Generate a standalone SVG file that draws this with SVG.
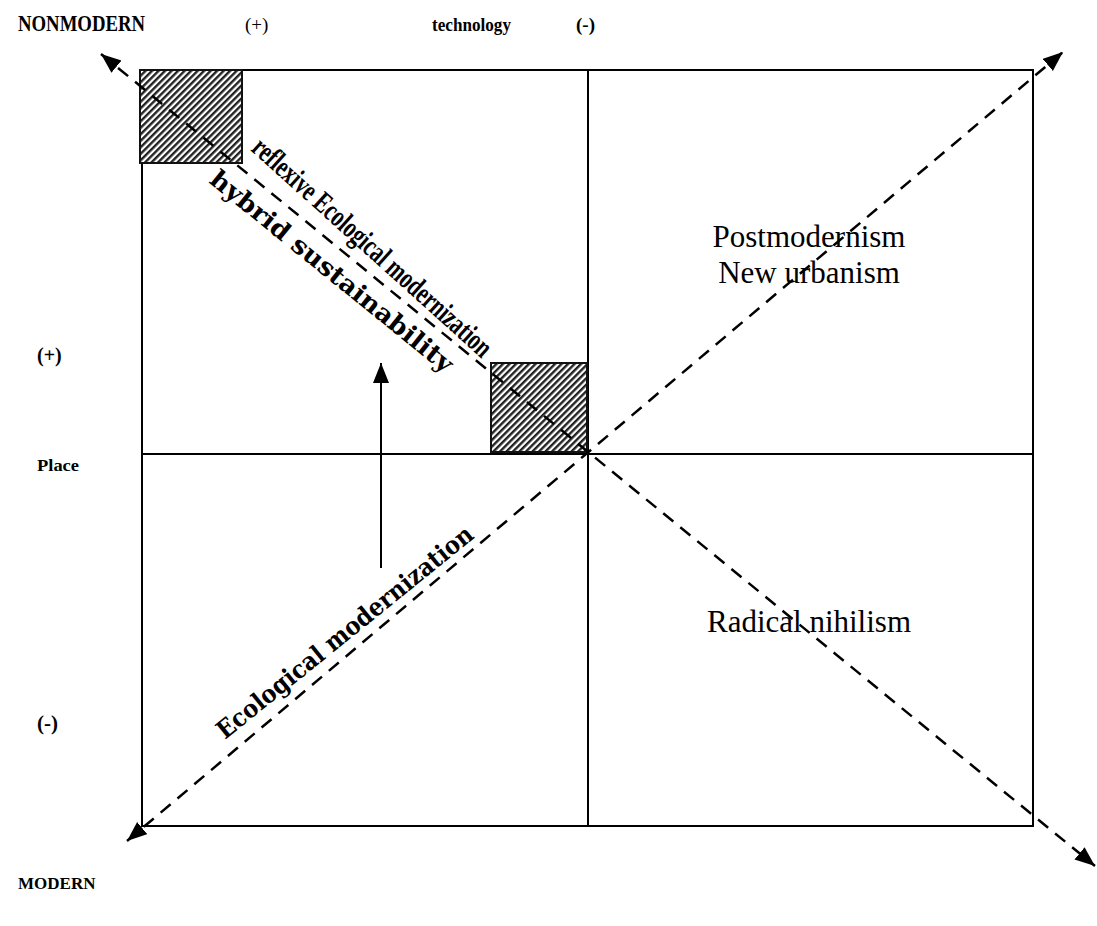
<svg xmlns="http://www.w3.org/2000/svg" width="1097" height="926" viewBox="0 0 1097 926">
  <style>
    .frame { fill: none; stroke: #000; stroke-width: 2; }
    .grid { stroke: #000; stroke-width: 2; }
    .dash { stroke: #000; stroke-width: 2.5; stroke-dasharray: 13 9; fill: none; }
    .hatch { fill: url(#stripes); stroke: #111; stroke-width: 2; }
    .lbl { font-family: "Liberation Serif", "Times New Roman", serif; fill: #000; }
    .b { font-weight: bold; }
    .wide { font-family: "DejaVu Serif", "Liberation Serif", serif; font-weight: bold; fill: #000; }
  </style>
  <defs>
    <pattern id="stripes" width="4.6" height="4.6" patternUnits="userSpaceOnUse" patternTransform="rotate(45)">
      <rect width="4.6" height="4.6" fill="#fff"/>
      <rect width="2.4" height="4.6" fill="#222"/>
    </pattern>
    <marker id="head" markerUnits="userSpaceOnUse" markerWidth="22" markerHeight="18" refX="20" refY="8" orient="auto-start-reverse">
      <path d="M0,0 L20,8 L0,16 Z" fill="#000"/>
    </marker>
  </defs>

  <!-- quadrant frame -->
  <g id="frame">
    <rect class="frame" x="142" y="70" width="891" height="756"/>
    <line class="grid" x1="588" y1="70" x2="588" y2="826"/>
    <line class="grid" x1="142" y1="454" x2="1033" y2="454"/>
  </g>

  <!-- hatched regions -->
  <g id="hatch-corner">
    <rect class="hatch" x="140" y="70" width="102" height="93"/>
  </g>
  <g id="hatch-center">
    <rect class="hatch" x="491" y="363" width="96" height="89"/>
  </g>

  <!-- axes and arrows -->
  <g id="connectors">
    <line class="dash" x1="101" y1="54" x2="1095" y2="866" marker-start="url(#head)" marker-end="url(#head)"/>
    <line class="dash" x1="127" y1="841" x2="1063" y2="52" marker-start="url(#head)" marker-end="url(#head)"/>
    <line stroke="#000" stroke-width="2" x1="381" y1="568" x2="381" y2="363" marker-end="url(#head)"/>
  </g>

  <!-- axis labels -->
  <g id="top-labels">
    <text class="lbl b" x="18" y="31" font-size="24" textLength="127" lengthAdjust="spacingAndGlyphs">NONMODERN</text>
    <text class="lbl" x="245" y="31" font-size="19">(+)</text>
    <text class="lbl b" x="432" y="31" font-size="19" textLength="79" lengthAdjust="spacingAndGlyphs">technology</text>
    <text class="lbl b" x="576" y="31" font-size="19">(-)</text>
  </g>
  <g id="side-labels">
    <text class="lbl b" x="37" y="362" font-size="20">(+)</text>
    <text class="lbl b" x="37" y="471" font-size="17" textLength="42" lengthAdjust="spacingAndGlyphs">Place</text>
    <text class="lbl b" x="37" y="730" font-size="21">(-)</text>
    <text class="lbl b" x="18" y="889" font-size="17">MODERN</text>
  </g>

  <!-- quadrant labels -->
  <g id="q-postmodern">
    <text class="lbl" x="809" y="247" font-size="31" text-anchor="middle">Postmodernism</text>
    <text class="lbl" x="809" y="283" font-size="31" text-anchor="middle">New urbanism</text>
  </g>
  <g id="q-nihilism">
    <text class="lbl" x="809" y="632" font-size="31" text-anchor="middle">Radical nihilism</text>
  </g>

  <!-- diagonal labels -->
  <g id="reflexive">
    <text class="lbl b" font-size="30" transform="translate(250,150) rotate(42)" textLength="312" lengthAdjust="spacingAndGlyphs">reflexive Ecological modernization</text>
  </g>
  <g id="hybrid">
    <text class="wide" font-size="25" transform="translate(208,182) rotate(39)" textLength="305" lengthAdjust="spacingAndGlyphs">hybrid sustainability</text>
  </g>
  <g id="ecomod">
    <text class="wide" font-size="25" transform="translate(225,740) rotate(-39)" textLength="322" lengthAdjust="spacingAndGlyphs">Ecological modernization</text>
  </g>
</svg>
